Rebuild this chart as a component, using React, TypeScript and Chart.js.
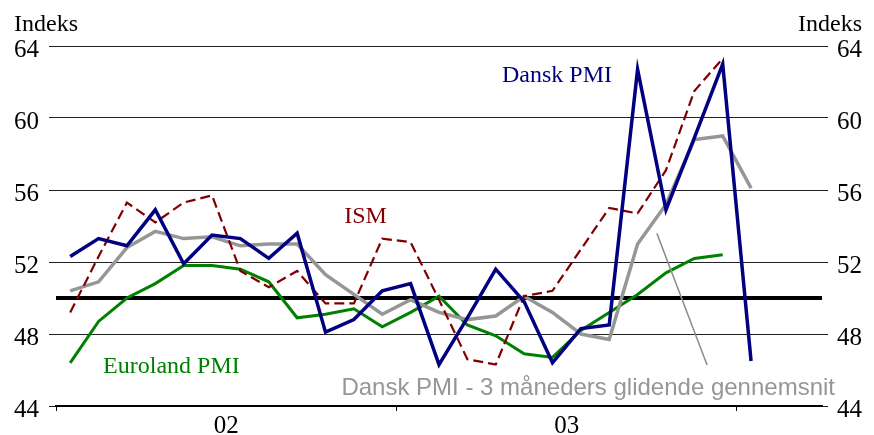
import { useEffect, useRef } from 'react';
import { Chart, registerables } from 'chart.js';

Chart.register(...registerables);

// Months from Jan 2002 (index 0) to Jan 2004 (index 24)
const danskPMI = [
  52.3, 53.3, 52.9, 54.9, 51.9, 53.5, 53.3, 52.2, 53.6, 48.1, 48.8, 50.4,
  50.8, 46.3, 48.9, 51.6, 49.8, 46.4, 48.3, 48.5, 62.7, 54.9, 58.9, 63.0,
  46.5,
];
const danskPMI3m = [
  50.4, 50.9, 52.8, 53.7, 53.3, 53.4, 52.9, 53.0, 53.0, 51.3, 50.2, 49.1,
  49.9, 49.2, 48.8, 49.0, 50.1, 49.2, 48.0, 47.7, 53.0, 55.2, 58.8, 59.0,
  56.1,
];
const eurolandPMI = [
  46.4, 48.7, 50.0, 50.8, 51.8, 51.8, 51.6, 50.9, 48.9, 49.1, 49.4, 48.4,
  49.2, 50.1, 48.5, 47.9, 46.9, 46.7, 48.2, 49.2, 50.2, 51.4, 52.2, 52.4,
];
const ismValues = [
  49.2, 52.3, 55.3, 54.2, 55.3, 55.7, 51.5, 50.6, 51.5, 49.7, 49.7, 53.3,
  53.1, 49.9, 46.6, 46.3, 50.1, 50.4, 52.7, 55.0, 54.7, 57.1, 61.5, 63.3,
];
const yearLabels = ['02', '03'];
const yearBoundaries = [-0.5, 11.5, 23.5];
const yTicks = [44, 48, 52, 56, 60, 64];
const referenceLevel = 50;
const xMin = -0.5;
const xMax = 26.5;

const seriesLabels = [
  { text: 'Dansk PMI', x: 15.22, y: 62.0, color: '#000080', font: '24px "Liberation Serif"' },
  { text: 'ISM', x: 9.66, y: 54.15, color: '#800000', font: '24px "Liberation Serif"' },
  { text: 'Euroland PMI', x: 1.16, y: 45.82, color: '#008000', font: '24px "Liberation Serif"' },
  { text: 'Dansk PMI - 3 måneders glidende gennemsnit', x: 9.56, y: 44.61, color: '#969696', font: '24px "Liberation Sans"' },
];
const pointerLine = { x1: 20.68, y1: 53.59, x2: 22.45, y2: 46.28 };

const toPoints = (arr: number[]) => arr.map((v, i) => ({ x: i, y: v }));
const yearLabelPos = yearLabels.map((_, k) => 12 * k + 5.5);

const annotationPlugin = {
  id: 'annotations',
  afterDraw(chart: any) {
    const { ctx, chartArea } = chart;
    const xs = chart.scales.x;
    const ys = chart.scales.y;
    ctx.save();
    ctx.strokeStyle = '#8c8c8c';
    ctx.lineWidth = 1.5;
    ctx.beginPath();
    ctx.moveTo(xs.getPixelForValue(pointerLine.x1), ys.getPixelForValue(pointerLine.y1));
    ctx.lineTo(xs.getPixelForValue(pointerLine.x2), ys.getPixelForValue(pointerLine.y2));
    ctx.stroke();

    ctx.textBaseline = 'alphabetic';
    ctx.textAlign = 'left';
    seriesLabels.forEach((l) => {
      ctx.font = l.font;
      ctx.fillStyle = l.color;
      ctx.fillText(l.text, xs.getPixelForValue(l.x), ys.getPixelForValue(l.y));
    });

    ctx.font = '24px "Liberation Serif"';
    ctx.fillStyle = '#000';
    ctx.textAlign = 'left';
    ctx.fillText('Indeks', 14, chartArea.top - 15);
    ctx.textAlign = 'right';
    ctx.fillText('Indeks', 862, chartArea.top - 15);
    ctx.restore();
  },
};

const tickFont = { family: 'Liberation Serif', size: 25 };

export default function App() {
  const canvasRef = useRef<HTMLCanvasElement | null>(null);

  useEffect(() => {
    if (!canvasRef.current) return;
    const lineCommon = {
      pointRadius: 0,
      tension: 0,
      borderJoinStyle: 'miter' as const,
      fill: false,
    };
    const chart = new Chart(canvasRef.current, {
      type: 'line',
      data: {
        datasets: [
          { label: 'Dansk PMI', data: toPoints(danskPMI), borderColor: '#000080', borderWidth: 3.5, ...lineCommon },
          { label: 'ISM', data: toPoints(ismValues), borderColor: '#800000', borderWidth: 2.2, borderDash: [10, 5], ...lineCommon },
          { label: 'Dansk PMI 3m', data: toPoints(danskPMI3m), borderColor: '#969696', borderWidth: 3.5, ...lineCommon },
          { label: 'Euroland PMI', data: toPoints(eurolandPMI), borderColor: '#008000', borderWidth: 3, ...lineCommon },
          {
            label: '50',
            data: [
              { x: xMin, y: referenceLevel },
              { x: xMax, y: referenceLevel },
            ],
            borderColor: '#000',
            borderWidth: 4,
            ...lineCommon,
          },
        ],
      },
      options: {
        animation: false,
        responsive: false,
        devicePixelRatio: 1,
        plugins: { legend: { display: false }, tooltip: { enabled: false } },
        layout: { padding: { top: 46, left: 0, right: 0, bottom: 0 } },
        scales: {
          x: {
            type: 'linear',
            min: xMin,
            max: xMax,
            afterBuildTicks: (s: any) => {
              s.ticks = [...yearBoundaries, ...yearLabelPos].sort((a, b) => a - b).map((v) => ({ value: v }));
            },
            afterFit: (s: any) => {
              s.height = 29;
            },
            grid: {
              drawOnChartArea: false,
              drawTicks: true,
              tickLength: 5,
              color: '#000',
              tickColor: (c: any) =>
                c.tick && yearBoundaries.includes(c.tick.value) ? '#000' : 'rgba(0,0,0,0)',
            },
            border: { display: true, color: '#000', width: 2 },
            ticks: {
              autoSkip: false,
              maxRotation: 0,
              font: tickFont,
              color: '#000',
              padding: 0,
              callback: (v: any) => {
                const k = yearLabelPos.indexOf(Number(v));
                return k >= 0 ? yearLabels[k] : '';
              },
            },
          },
          y: {
            position: 'left',
            min: 44,
            max: 64,
            afterBuildTicks: (s: any) => {
              s.ticks = yTicks.map((v) => ({ value: v }));
            },
            afterFit: (s: any) => {
              s.width = 56;
            },
            grid: { color: '#222', lineWidth: 1, drawTicks: true, tickLength: 7 },
            border: { display: false },
            ticks: { font: tickFont, color: '#000', padding: 10, labelOffset: 4 },
          },
          y2: {
            position: 'right',
            min: 44,
            max: 64,
            afterBuildTicks: (s: any) => {
              s.ticks = yTicks.map((v) => ({ value: v }));
            },
            afterFit: (s: any) => {
              s.width = 52;
            },
            grid: { drawOnChartArea: false, drawTicks: true, tickLength: 6, color: '#222' },
            border: { display: false },
            ticks: { font: tickFont, color: '#000', padding: 9, labelOffset: 4 },
          },
        },
      },
      plugins: [annotationPlugin],
    });
    return () => chart.destroy();
  }, []);

  return (
    <div style={{ position: 'absolute', left: 0, top: 0, width: 874, height: 435, background: '#fff' }}>
      <canvas ref={canvasRef} width={874} height={435} style={{ display: 'block' }} />
    </div>
  );
}
